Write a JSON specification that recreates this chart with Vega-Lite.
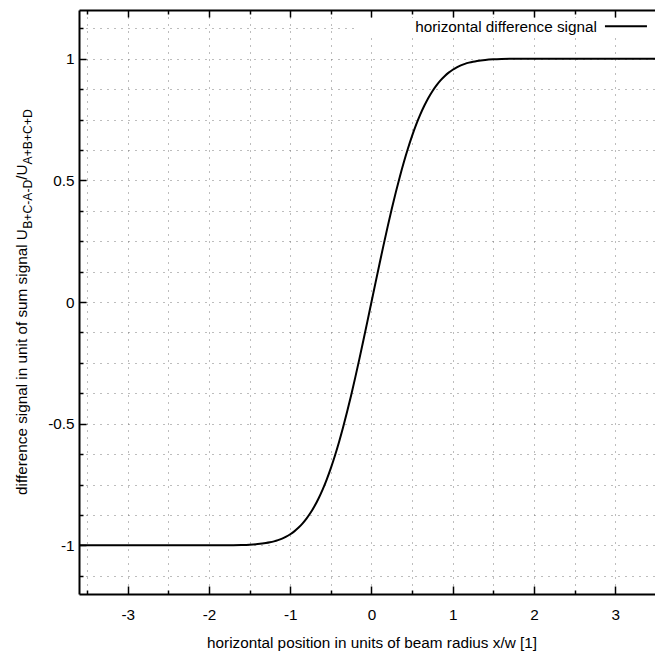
{
  "$schema": "https://vega.github.io/schema/vega-lite/v6.json",
  "width": 576,
  "height": 584,
  "autosize": "none",
  "padding": {"left": 79, "top": 10, "right": 0, "bottom": 59},
  "background": "white",
  "view": {"stroke": null},
  "config": {"font": "Liberation Sans", "text": {"font": "Liberation Sans", "color": "black"}},
  "datasets": {
    "curve": [
      {"x": -3.6, "y": -1}, {"x": -3.0, "y": -1}, {"x": -2.5, "y": -1}, {"x": -2.0, "y": -0.99994},
      {"x": -1.8, "y": -0.99968}, {"x": -1.7, "y": -0.99933}, {"x": -1.6, "y": -0.99863}, {"x": -1.5, "y": -0.9973},
      {"x": -1.4, "y": -0.99489}, {"x": -1.3, "y": -0.99068}, {"x": -1.25, "y": -0.98758}, {"x": -1.2, "y": -0.98361},
      {"x": -1.15, "y": -0.97856}, {"x": -1.1, "y": -0.97219}, {"x": -1.05, "y": -0.96428}, {"x": -1.0, "y": -0.9545},
      {"x": -0.95, "y": -0.94256}, {"x": -0.9, "y": -0.92814}, {"x": -0.85, "y": -0.91086}, {"x": -0.8, "y": -0.8904},
      {"x": -0.75, "y": -0.86638}, {"x": -0.7, "y": -0.83849}, {"x": -0.65, "y": -0.8064}, {"x": -0.6, "y": -0.76986},
      {"x": -0.55, "y": -0.72866}, {"x": -0.5, "y": -0.68269}, {"x": -0.45, "y": -0.63188}, {"x": -0.4, "y": -0.57629},
      {"x": -0.35, "y": -0.51608}, {"x": -0.3, "y": -0.45149}, {"x": -0.25, "y": -0.38292}, {"x": -0.2, "y": -0.31084},
      {"x": -0.15, "y": -0.23582}, {"x": -0.1, "y": -0.15852}, {"x": -0.05, "y": -0.07966}, {"x": 0, "y": 0},
      {"x": 0.05, "y": 0.07966}, {"x": 0.1, "y": 0.15852}, {"x": 0.15, "y": 0.23582}, {"x": 0.2, "y": 0.31084},
      {"x": 0.25, "y": 0.38292}, {"x": 0.3, "y": 0.45149}, {"x": 0.35, "y": 0.51608}, {"x": 0.4, "y": 0.57629},
      {"x": 0.45, "y": 0.63188}, {"x": 0.5, "y": 0.68269}, {"x": 0.55, "y": 0.72866}, {"x": 0.6, "y": 0.76986},
      {"x": 0.65, "y": 0.8064}, {"x": 0.7, "y": 0.83849}, {"x": 0.75, "y": 0.86638}, {"x": 0.8, "y": 0.8904},
      {"x": 0.85, "y": 0.91086}, {"x": 0.9, "y": 0.92814}, {"x": 0.95, "y": 0.94256}, {"x": 1.0, "y": 0.9545},
      {"x": 1.05, "y": 0.96428}, {"x": 1.1, "y": 0.97219}, {"x": 1.15, "y": 0.97856}, {"x": 1.2, "y": 0.98361},
      {"x": 1.25, "y": 0.98758}, {"x": 1.3, "y": 0.99068}, {"x": 1.4, "y": 0.99489}, {"x": 1.5, "y": 0.9973},
      {"x": 1.6, "y": 0.99863}, {"x": 1.7, "y": 0.99933}, {"x": 1.8, "y": 0.99968}, {"x": 2.0, "y": 0.99994},
      {"x": 2.5, "y": 1}, {"x": 3.0, "y": 1}, {"x": 3.49, "y": 1}
    ],
    "legend": [{"label": "horizontal difference signal"}]
  },
  "layer": [
    {
      "data": {"name": "legend"},
      "mark": {"type": "rect", "fill": "white"},
      "encoding": {
        "x": {"datum": -0.18, "type": "quantitative", "scale": {"domain": [-3.6, 3.49], "nice": false, "zero": false}, "axis": null},
        "x2": {"datum": 3.49},
        "y": {"datum": 1.089, "type": "quantitative", "scale": {"domain": [-1.2, 1.2], "nice": false, "zero": false}, "axis": null},
        "y2": {"datum": 1.167}
      }
    },
    {
      "data": {"name": "curve"},
      "mark": {"type": "line", "color": "black", "strokeWidth": 2, "interpolate": "monotone", "clip": true},
      "encoding": {
        "x": {
          "field": "x", "type": "quantitative",
          "scale": {"domain": [-3.6, 3.49], "nice": false, "zero": false},
          "axis": {
            "orient": "bottom",
            "values": [-3.5, -3, -2.5, -2, -1.5, -1, -0.5, 0, 0.5, 1, 1.5, 2, 2.5, 3],
            "labelExpr": "datum.value % 1 === 0 ? toString(datum.value) : ''",
            "grid": true, "gridDash": [1, 6], "gridColor": "#7a7a7a", "gridWidth": 1,
            "domainColor": "black", "domainWidth": 2,
            "tickColor": "black", "tickWidth": 1.5,
            "tickSize": {"condition": {"test": "datum.value % 1 === 0", "value": -8}, "value": -4},
            "labelFontSize": 15.3, "labelColor": "black", "labelPadding": 21, "labelFlush": false, "labelOverlap": false,
            "labelFont": "Liberation Sans",
            "title": "horizontal position in units of beam radius x/w [1]",
            "titleFont": "Liberation Sans", "titleFontSize": 15.3, "titleFontWeight": "normal", "titleColor": "black",
            "titlePadding": 9, "titleX": 292.5
          }
        },
        "y": {
          "field": "y", "type": "quantitative",
          "scale": {"domain": [-1.2, 1.2], "nice": false, "zero": false},
          "axis": {
            "orient": "left",
            "values": [-1.125, -1, -0.875, -0.75, -0.625, -0.5, -0.375, -0.25, -0.125, 0, 0.125, 0.25, 0.375, 0.5, 0.625, 0.75, 0.875, 1, 1.125],
            "labelExpr": "abs(datum.value * 2 - round(datum.value * 2)) < 0.000001 ? toString(datum.value) : ''",
            "grid": true, "gridDash": [1, 6], "gridColor": "#7a7a7a", "gridWidth": 1,
            "domainColor": "black", "domainWidth": 2,
            "tickColor": "black", "tickWidth": 1.5,
            "tickSize": {"condition": {"test": "abs(datum.value * 2 - round(datum.value * 2)) < 0.000001", "value": -7}, "value": -4},
            "labelFontSize": 15.3, "labelColor": "black", "labelPadding": 12, "labelFlush": false, "labelOverlap": false,
            "labelFont": "Liberation Sans",
            "title": null
          }
        }
      }
    },
    {
      "data": {"name": "legend"},
      "mark": {"type": "rule", "color": "black", "strokeWidth": 2},
      "encoding": {
        "x": {
          "datum": 2.874, "type": "quantitative",
          "scale": {"domain": [-3.6, 3.49], "nice": false, "zero": false},
          "axis": {
            "orient": "top",
            "values": [-3.5, -3, -2.5, -2, -1.5, -1, -0.5, 0, 0.5, 1, 1.5, 2, 2.5, 3],
            "labels": false, "grid": false, "title": null,
            "domainColor": "black", "domainWidth": 2,
            "tickColor": "black", "tickWidth": 1.5,
            "tickSize": {"condition": {"test": "datum.value % 1 === 0", "value": -7}, "value": -4}
          }
        },
        "x2": {"datum": 3.391},
        "y": {"datum": 1.133, "type": "quantitative", "scale": {"domain": [-1.2, 1.2], "nice": false, "zero": false}, "axis": null}
      }
    },
    {
      "data": {"name": "legend"},
      "mark": {"type": "text", "align": "right", "baseline": "middle", "fontSize": 15.3, "color": "black"},
      "encoding": {
        "text": {"field": "label"},
        "x": {"datum": 2.775, "type": "quantitative", "scale": {"domain": [-3.6, 3.49], "nice": false, "zero": false}, "axis": null},
        "y": {"datum": 1.132, "type": "quantitative", "scale": {"domain": [-1.2, 1.2], "nice": false, "zero": false}, "axis": null}
      }
    },
    {
      "data": {"values": [{"t": "difference signal in unit of sum signal U"}]},
      "mark": {"type": "text", "angle": 270, "align": "left", "baseline": "alphabetic", "fontSize": 15.3, "dx": -193, "dy": -52, "color": "black"},
      "encoding": {
        "text": {"field": "t"},
        "x": {"datum": -3.6, "type": "quantitative", "scale": {"domain": [-3.6, 3.49], "nice": false, "zero": false}, "axis": null},
        "y": {"datum": 0, "type": "quantitative", "scale": {"domain": [-1.2, 1.2], "nice": false, "zero": false}, "axis": null}
      }
    },
    {
      "data": {"values": [{"t": "B+C-A-D"}]},
      "mark": {"type": "text", "angle": 270, "align": "left", "baseline": "alphabetic", "fontSize": 12.2, "dx": 73.2, "dy": -47, "color": "black"},
      "encoding": {
        "text": {"field": "t"},
        "x": {"datum": -3.6, "type": "quantitative", "scale": {"domain": [-3.6, 3.49], "nice": false, "zero": false}, "axis": null},
        "y": {"datum": 0, "type": "quantitative", "scale": {"domain": [-1.2, 1.2], "nice": false, "zero": false}, "axis": null}
      }
    },
    {
      "data": {"values": [{"t": "/U"}]},
      "mark": {"type": "text", "angle": 270, "align": "left", "baseline": "alphabetic", "fontSize": 15.3, "dx": 122.3, "dy": -52, "color": "black"},
      "encoding": {
        "text": {"field": "t"},
        "x": {"datum": -3.6, "type": "quantitative", "scale": {"domain": [-3.6, 3.49], "nice": false, "zero": false}, "axis": null},
        "y": {"datum": 0, "type": "quantitative", "scale": {"domain": [-1.2, 1.2], "nice": false, "zero": false}, "axis": null}
      }
    },
    {
      "data": {"values": [{"t": "A+B+C+D"}]},
      "mark": {"type": "text", "angle": 270, "align": "left", "baseline": "alphabetic", "fontSize": 12.2, "dx": 137.6, "dy": -47, "color": "black"},
      "encoding": {
        "text": {"field": "t"},
        "x": {"datum": -3.6, "type": "quantitative", "scale": {"domain": [-3.6, 3.49], "nice": false, "zero": false}, "axis": null},
        "y": {"datum": 0, "type": "quantitative", "scale": {"domain": [-1.2, 1.2], "nice": false, "zero": false}, "axis": null}
      }
    }
  ],
  "resolve": {"axis": {"x": "independent", "y": "independent"}}
}
